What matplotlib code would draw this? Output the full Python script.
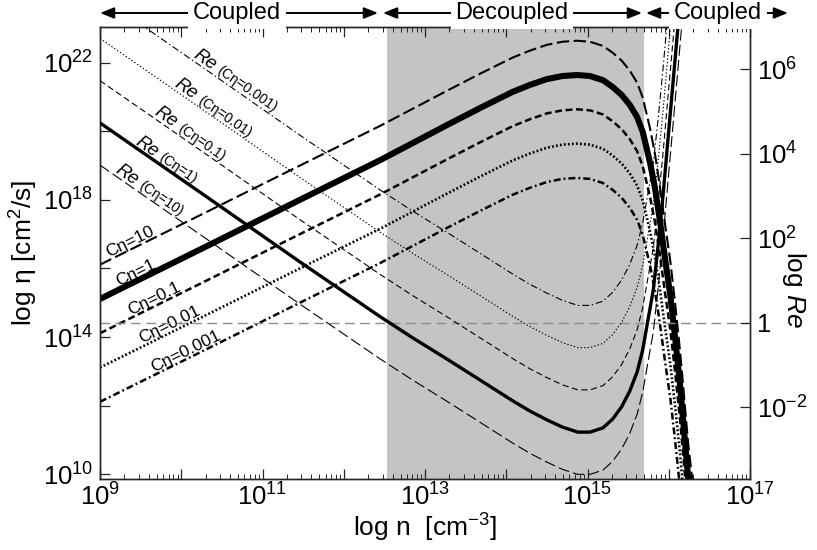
import numpy as np
import matplotlib
matplotlib.use("Agg")
import matplotlib.pyplot as plt
from matplotlib.ticker import FixedLocator, FixedFormatter, NullFormatter, LogLocator, NullLocator
from matplotlib.patches import FancyArrowPatch

plt.rcParams['font.family'] = ['Liberation Sans', 'DejaVu Sans']
plt.rcParams['mathtext.fontset'] = 'custom'
plt.rcParams['mathtext.rm'] = 'Liberation Sans'
plt.rcParams['mathtext.it'] = 'Liberation Sans:italic'
plt.rcParams['mathtext.bf'] = 'Liberation Sans:bold'
plt.rcParams['lines.scale_dashes'] = False
plt.rcParams['axes.unicode_minus'] = False

# ---------------- data (log10 values) ----------------
c_eta_labels = ['10', '1', '0.1', '0.01', '0.001']

# log n [cm^-3] for the eta curves
logn_eta = [9.00, 10.23, 11.46, 12.45, 13.27, 13.68, 14.08, 14.29, 14.50, 14.69,
            14.87, 15.03, 15.19, 15.31, 15.42, 15.52, 15.61, 15.68, 15.77, 15.83,
            15.89, 15.95, 16.02, 16.08, 16.14, 16.19, 16.24, 16.29]
# log eta [cm^2/s]
logeta_c10 = [16.11, 17.55, 19.00, 20.16, 21.18, 21.68, 22.15, 22.35, 22.52, 22.61,
              22.64, 22.61, 22.49, 22.29, 22.06, 21.77, 21.42, 20.98, 20.08, 19.35,
              18.41, 17.36, 16.20, 14.94, 13.57, 12.23, 10.86, 9.84]
logeta_c1 = [15.11, 16.55, 18.00, 19.16, 20.18, 20.68, 21.15, 21.35, 21.52, 21.61,
             21.64, 21.61, 21.49, 21.29, 21.06, 20.77, 20.42, 19.98, 19.08, 18.35,
             17.41, 16.36, 15.20, 13.94, 12.57, 11.23, 9.86, 8.84]
logeta_c01 = [14.11, 15.55, 17.00, 18.16, 19.18, 19.68, 20.15, 20.35, 20.52, 20.61,
              20.64, 20.61, 20.49, 20.29, 20.06, 19.77, 19.42, 18.98, 18.08, 17.35,
              16.41, 15.36, 14.20, 12.94, 11.57, 10.23, 8.86, 7.84]
logeta_c001 = [13.11, 14.55, 16.00, 17.16, 18.18, 18.68, 19.15, 19.35, 19.52, 19.61,
               19.64, 19.61, 19.49, 19.29, 19.06, 18.77, 18.42, 17.98, 17.08, 16.35,
               15.41, 14.36, 13.20, 11.94, 10.57, 9.23, 7.86, 6.84]
logeta_c0001 = [12.11, 13.55, 15.00, 16.16, 17.18, 17.68, 18.15, 18.35, 18.52, 18.61,
                18.64, 18.61, 18.49, 18.29, 18.06, 17.77, 17.42, 16.98, 16.08, 15.35,
                14.41, 13.36, 12.20, 10.94, 9.57, 8.23, 6.86, 5.84]

# log n for the Reynolds-number curves
logn_re = [9.00, 10.23, 11.46, 12.45, 12.85, 13.27, 13.68, 14.08, 14.29, 14.50,
           14.69, 14.88, 15.03, 15.19, 15.31, 15.42, 15.52, 15.61, 15.68, 15.74,
           15.81, 15.87, 15.93, 15.99, 16.05, 16.11, 16.16]
# log Re
logre_c10 = [3.73, 2.09, 0.44, -0.86, -1.36, -1.86, -2.36, -2.85, -3.09, -3.30,
             -3.47, -3.59, -3.59, -3.49, -3.28, -2.99, -2.62, -2.17, -1.64, -0.98,
             -0.22, 0.84, 2.02, 3.33, 4.63, 5.93, 7.04]
logre_c1 = [4.73, 3.09, 1.44, 0.14, -0.36, -0.86, -1.36, -1.85, -2.09, -2.30,
            -2.47, -2.59, -2.59, -2.49, -2.28, -1.99, -1.62, -1.17, -0.64, 0.02,
            0.78, 1.84, 3.02, 4.33, 5.63, 6.93, 8.04]
logre_c01 = [5.73, 4.09, 2.44, 1.14, 0.64, 0.14, -0.36, -0.85, -1.09, -1.30,
             -1.47, -1.59, -1.59, -1.49, -1.28, -0.99, -0.62, -0.17, 0.36, 1.02,
             1.78, 2.84, 4.02, 5.33, 6.63, 7.93, 9.04]
logre_c001 = [6.73, 5.09, 3.44, 2.14, 1.64, 1.14, 0.64, 0.15, -0.09, -0.30,
              -0.47, -0.59, -0.59, -0.49, -0.28, 0.01, 0.38, 0.83, 1.36, 2.02,
              2.78, 3.84, 5.02, 6.33, 7.63, 8.93, 10.04]
logre_c0001 = [7.73, 6.09, 4.44, 3.14, 2.64, 2.14, 1.64, 1.15, 0.91, 0.70,
               0.53, 0.41, 0.41, 0.51, 0.72, 1.01, 1.38, 1.83, 2.36, 3.02,
               3.78, 4.84, 6.02, 7.33, 8.63, 9.93, 11.04]

# decoupled density range (log n)
decoupled_range = [12.53, 15.70]

x_ticks_exp = [9, 10, 11, 12, 13, 14, 15, 16, 17]
x_label_exp = [9, 11, 13, 15, 17]
y_ticks_exp = [10, 12, 14, 16, 18, 20, 22]
y_label_exp = [10, 14, 18, 22]
re_ticks_exp = [-2, 0, 2, 4, 6]

eta_curves = [logeta_c10, logeta_c1, logeta_c01, logeta_c001, logeta_c0001]
re_curves = [logre_c10, logre_c1, logre_c01, logre_c001, logre_c0001]

# ---------------- styles ----------------
eta_styles = [dict(lw=1.5, dashes=(9, 3.2)),
              dict(lw=4.4, ls='-'),
              dict(lw=1.8, dashes=(5, 2.6)),
              dict(lw=1.9, dashes=(1.3, 1.6)),
              dict(lw=1.8, dashes=(5, 2.2, 1.3, 2.2))]
re_styles = [dict(lw=0.8, dashes=(8, 3)),
             dict(lw=2.4, ls='-'),
             dict(lw=0.8, dashes=(4.5, 2.5)),
             dict(lw=0.8, dashes=(1.0, 1.5)),
             dict(lw=0.8, dashes=(5, 2, 1, 2))]

TICK_FS = 18.5
LABEL_FS = 19

W, H = 817, 550
fig = plt.figure(figsize=(W / 100, H / 100), dpi=100)
ax = fig.add_axes([100 / W, 71 / H, 650 / W, 452 / H])
ax2 = ax.twinx()

ax.set_xscale('log')
ax.set_yscale('log')
ax2.set_yscale('log')
ax.set_xlim(1e9, 1e17)
ax.set_ylim(10 ** 9.86, 10 ** 23.04)
ax2.set_ylim(10 ** -3.70, 10 ** 7.0)

gray = (0.765, 0.768, 0.776)
ax.axvspan(10 ** decoupled_range[0], 10 ** decoupled_range[1], color=gray, lw=0, zorder=0)

n_eta = 10 ** np.array(logn_eta)
for arr, st in zip(eta_curves, eta_styles):
    ax.plot(n_eta, 10 ** np.array(arr), color='k', solid_capstyle='butt',
            dash_capstyle='butt', solid_joinstyle='round', zorder=3, **st)

ax2.axhline(1.0, color='0.55', lw=1.0, dashes=(7, 4), zorder=1)

n_re = 10 ** np.array(logn_re)
for arr, st in zip(re_curves, re_styles):
    ax2.plot(n_re, 10 ** np.array(arr), color='k', solid_capstyle='butt',
             dash_capstyle='butt', zorder=3, **st)

# ---------------- ticks ----------------
for a in (ax, ax2):
    for s in a.spines.values():
        s.set_linewidth(1.0)
        s.set_color('0.15')

ax.xaxis.set_major_locator(FixedLocator([10.0 ** k for k in x_ticks_exp]))
ax.xaxis.set_major_formatter(FixedFormatter(
    [r'$\mathdefault{10^{%d}}$' % k if k in x_label_exp else '' for k in x_ticks_exp]))
ax.xaxis.set_minor_locator(LogLocator(base=10, subs=np.arange(2, 10), numticks=100))
ax.xaxis.set_minor_formatter(NullFormatter())

ax.yaxis.set_major_locator(FixedLocator([10.0 ** k for k in y_ticks_exp]))
ax.yaxis.set_major_formatter(FixedFormatter(
    [r'$\mathdefault{10^{%d}}$' % k if k in y_label_exp else '' for k in y_ticks_exp]))
ax.yaxis.set_minor_locator(NullLocator())

ax2.yaxis.set_major_locator(FixedLocator([10.0 ** k for k in re_ticks_exp]))
ax2.yaxis.set_major_formatter(FixedFormatter(
    ['1' if k == 0 else r'$\mathdefault{10^{%d}}$' % k for k in re_ticks_exp]))
ax2.yaxis.set_minor_locator(NullLocator())

ax.tick_params(axis='x', which='both', direction='in', top=True, bottom=True,
               labelsize=TICK_FS, pad=3, color='0.15')
ax.tick_params(axis='x', which='major', length=7, width=0.9)
ax.tick_params(axis='x', which='minor', length=3.5, width=0.7)
ax.tick_params(axis='y', which='major', direction='in', left=True, right=False, length=7, width=0.9,
               labelsize=TICK_FS, pad=5, color='0.15')
ax2.tick_params(axis='y', which='major', direction='in', right=True, left=False, length=7, width=0.9,
                labelsize=TICK_FS, pad=5, color='0.15')

ax.set_xlabel(r'log n  [cm$^{\mathdefault{-3}}$]', fontsize=LABEL_FS, labelpad=1)
ax.set_ylabel(r'log η [cm$^{\mathdefault{2}}$/s]', fontsize=LABEL_FS)
ax.yaxis.set_label_coords((40 - 100) / 650, 0.5)
ax2.set_ylabel(r'log $\mathit{Re}$', fontsize=LABEL_FS, rotation=-90, va='center', ha='center')
ax2.yaxis.set_label_coords((794 - 100) / 650, (479 - 290) / 452)

# ---------------- curve labels ----------------
def put_label(axis, xs, ys, x0, text, angle, size, offset, style='normal', extra=None):
    y0 = 10 ** np.interp(x0, xs, ys)
    th = np.deg2rad(angle)
    dx, dy = -np.sin(th) * offset, np.cos(th) * offset
    axis.annotate(text, xy=(10 ** x0, y0), xytext=(dx, dy), textcoords='offset points',
                  rotation=angle, rotation_mode='anchor', ha='left', va='baseline',
                  fontsize=size, fontstyle=style, zorder=6, annotation_clip=False)
    if extra is not None:
        ex_text, ex_size, ex_shift = extra
        axis.annotate(ex_text, xy=(10 ** x0, y0),
                      xytext=(dx + np.cos(th) * ex_shift, dy + np.sin(th) * ex_shift),
                      textcoords='offset points', rotation=angle, rotation_mode='anchor',
                      ha='left', va='baseline', fontsize=ex_size, zorder=6, annotation_clip=False)

eta_label_x = [9.12, 9.25, 9.39, 9.53, 9.68]
for arr, lab, x0 in zip(eta_curves, c_eta_labels, eta_label_x):
    put_label(ax, logn_eta, arr, x0, 'Cη=' + lab, 26.3, 12.5, 2.0)

re_label_x = [9.16, 9.41, 9.64, 9.89, 10.12]
for arr, lab, x0 in zip(re_curves, c_eta_labels, re_label_x):
    put_label(ax2, logn_re, arr, x0, 'Re', -34.7, 13.5, 2.0, style='italic',
              extra=('(Cη=' + lab + ')', 10, 20))

# ---------------- coupled / decoupled arrows ----------------
y_arrow = (H - 13) / H
segments = [(100, 378, 237, 'Coupled'), (383, 642, 512, 'Decoupled'), (646, 788, 718, 'Coupled')]
for x0, x1, xc, lab in segments:
    fig.add_artist(FancyArrowPatch((x0 / W, y_arrow), (x1 / W, y_arrow), transform=fig.transFigure,
                                   arrowstyle='<|-|>,head_length=0.7,head_width=0.28',
                                   mutation_scale=12, lw=1.4, color='k', shrinkA=0, shrinkB=0))
    fig.text(xc / W, y_arrow, lab, ha='center', va='center', fontsize=17, zorder=5,
             bbox=dict(boxstyle='square,pad=0.2', fc='white', ec='none'))

fig.savefig('out.png', dpi=100)
